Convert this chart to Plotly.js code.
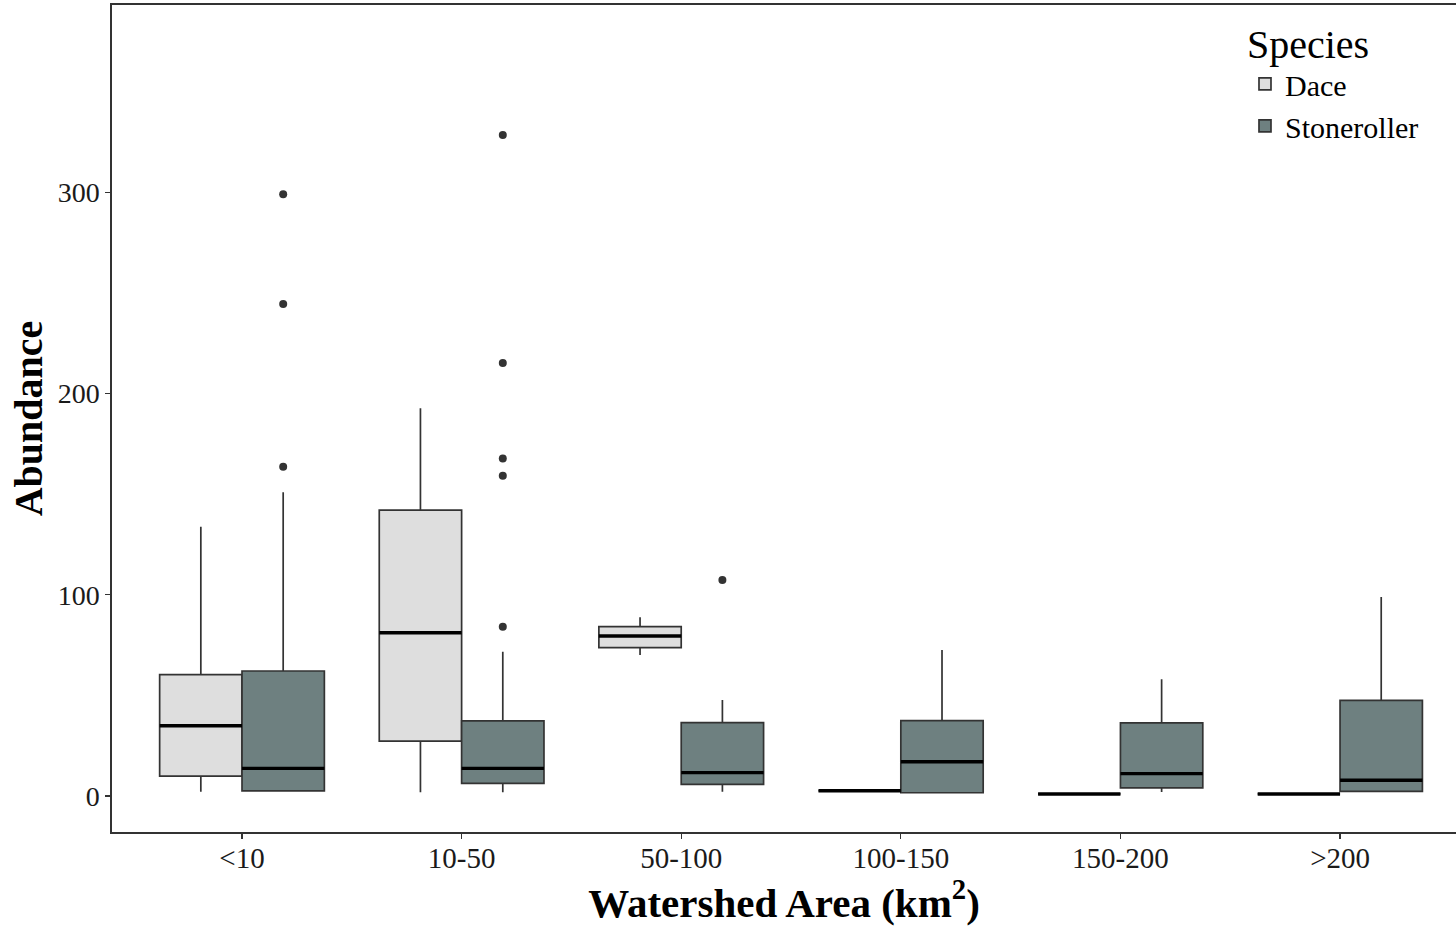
<!DOCTYPE html>
<html>
<head>
<meta charset="utf-8">
<script src="https://cdn.plot.ly/plotly-3.0.1.min.js"></script>
<style>html,body{margin:0;padding:0;background:#fff;}#chart{width:1456px;height:930px;}</style>
</head>
<body>
<div id="chart"></div>
<script>
// ---- data ----
const categories = ["<10", "10-50", "50-100", "100-150", "150-200", ">200"];

const daceLowerFence = [2.1, 1.8, 70.0, 2.6, 1.0, 1.0];
const daceQ1         = [9.9, 27.3, 73.7, 2.6, 1.0, 1.0];
const daceMedian     = [34.9, 81.1, 79.5, 2.6, 1.0, 1.0];
const daceQ3         = [60.3, 142.0, 84.1, 2.6, 1.0, 1.0];
const daceUpperFence = [133.8, 192.6, 88.8, 2.6, 1.0, 1.0];

const stoneLowerFence = [2.3, 1.8, 2.1, 1.6, 2.0, 2.3];
const stoneQ1         = [2.5, 6.3, 5.8, 1.6, 4.0, 2.3];
const stoneMedian     = [13.7, 13.7, 11.6, 17.0, 11.1, 7.8];
const stoneQ3         = [62.1, 37.3, 36.4, 37.4, 36.3, 47.5];
const stoneUpperFence = [150.9, 71.7, 47.7, 72.5, 58.0, 98.9];

// Stoneroller outliers: category and value
const stoneOutlierCat = ["<10", "<10", "<10", "10-50", "10-50", "10-50", "10-50", "10-50", "50-100"];
const stoneOutlierVal = [299.0, 244.5, 163.6, 328.4, 215.1, 167.7, 159.1, 84.1, 107.3];

const yTicks = [0, 100, 200, 300];

// ---- styling / dodge ----
const dodge = 0.75;          // total width of a dodged group (ggplot default)
const boxW = dodge / 2;
const offsets = [-boxW / 2, boxW / 2];
const outlineColor = "#333333";
const fills = ["#DEDEDE", "#6E8080"];
const serif = "Liberation Serif, Times New Roman, serif";

const idx = categories.map((c, i) => i);
function pos(k) { return idx.map(i => i + offsets[k]); }

const series = [
  {name: "Dace", lf: daceLowerFence, q1: daceQ1, med: daceMedian, q3: daceQ3, uf: daceUpperFence},
  {name: "Stoneroller", lf: stoneLowerFence, q1: stoneQ1, med: stoneMedian, q3: stoneQ3, uf: stoneUpperFence}
];

const traces = [];
series.forEach((s, k) => {
  traces.push({
    type: "box",
    name: s.name,
    x: pos(k),
    lowerfence: s.lf, q1: s.q1, median: s.med, q3: s.q3, upperfence: s.uf,
    width: boxW,
    whiskerwidth: 0,
    fillcolor: fills[k],
    line: {color: outlineColor, width: 1.7},
    boxpoints: false,
    hoverinfo: "skip"
  });
});

// thick median bars drawn on the same axis
series.forEach((s, k) => {
  const xs = [], ys = [];
  pos(k).forEach((p, i) => {
    xs.push(p - boxW / 2, p + boxW / 2, null);
    ys.push(s.med[i], s.med[i], null);
  });
  traces.push({
    type: "scatter", mode: "lines", x: xs, y: ys,
    line: {color: "#000000", width: 3.4},
    showlegend: false, hoverinfo: "skip"
  });
});

// outliers
traces.push({
  type: "scatter", mode: "markers",
  x: stoneOutlierCat.map(c => categories.indexOf(c) + offsets[1]),
  y: stoneOutlierVal,
  marker: {color: "#333333", size: 8},
  showlegend: false, hoverinfo: "skip"
});

const layout = {
  width: 1456, height: 930,
  margin: {l: 112, r: 0, t: 5, b: 98},
  paper_bgcolor: "#ffffff", plot_bgcolor: "#ffffff",
  font: {family: serif, color: "#1a1a1a"},
  showlegend: true,
  xaxis: {
    range: [-0.592, 5.528],
    tickvals: idx, ticktext: categories,
    showgrid: false, zeroline: false,
    showline: true, linecolor: "#333333", linewidth: 1.7, mirror: true,
    ticks: "outside", ticklen: 5, tickcolor: "#333333", tickwidth: 1.3,
    ticklabelstandoff: -6,
    tickfont: {family: serif, size: 29, color: "#1a1a1a"},
    title: {text: "<b>Watershed Area (km<sup>2</sup>)</b>", font: {family: serif, size: 41, color: "#000"}, standoff: 13}
  },
  yaxis: {
    range: [-17.9, 393],
    tickvals: yTicks,
    showgrid: false, zeroline: false,
    showline: true, linecolor: "#333333", linewidth: 1.7,
    ticks: "outside", ticklen: 5, tickcolor: "#333333", tickwidth: 1.3,
    tickfont: {family: serif, size: 28, color: "#1a1a1a"},
    title: {text: "<b>Abundance</b>", font: {family: serif, size: 40, color: "#000"}, standoff: 3}
  },
  legend: {
    x: 0.843, y: 0.999, xanchor: "left", yanchor: "top",
    title: {text: "Species", font: {family: serif, size: 40, color: "#000"}},
    font: {family: serif, size: 30, color: "#000"},
    bgcolor: "rgba(0,0,0,0)", tracegroupgap: 0, itemwidth: 30
  }
};

Plotly.newPlot("chart", traces, layout, {displayModeBar: false, staticPlot: true});
</script>
</body>
</html>
